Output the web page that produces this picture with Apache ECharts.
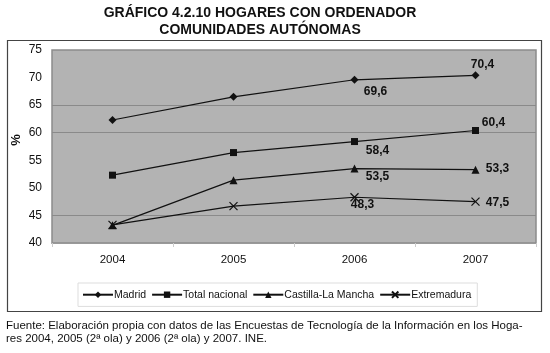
<!DOCTYPE html>
<html>
<head>
    <meta charset="utf-8">
    <title>Hogares con ordenador</title>
    <style type="text/css">
        html, body { margin: 0; padding: 0; background: #fff; }
        #main { width: 550px; height: 353px; }
    </style>
    <script src="https://cdn.jsdelivr.net/npm/echarts@6/dist/echarts.min.js"></script>
</head>
<body>
<div id="main"></div>
<script type="text/javascript">
    var years = ['2004', '2005', '2006', '2007'];
    var madrid = [62.3, 66.5, 69.6, 70.4];
    var totalNacional = [52.3, 56.4, 58.4, 60.4];
    var castilla = [43.2, 51.4, 53.5, 53.3];
    var extremadura = [43.3, 46.7, 48.3, 47.5];

    var FONT = '"Liberation Sans", Arial, sans-serif';
    var INK = '#111';

    // only 2006 and 2007 carry a value label; offsets are from the point
    var labelOffsets = {
        'Madrid': [null, null, [21, 12], [7, -11]],
        'Total nacional': [null, null, [23, 9], [18, -8]],
        'Castilla-La Mancha': [null, null, [23, 8], [22, -1]],
        'Extremadura': [null, null, [8, 7], [22, 1]]
    };

    function buildData(name, values) {
        return values.map(function (v, i) {
            var off = labelOffsets[name][i];
            if (!off) return v;
            return {
                value: v,
                label: {
                    show: true,
                    position: 'inside',
                    offset: off,
                    formatter: function (p) { return String(p.value).replace('.', ','); },
                    fontFamily: FONT,
                    fontWeight: 'bold',
                    fontSize: 12,
                    color: INK
                }
            };
        });
    }

    function line(name, values, symbol, size, extra) {
        var s = {
            name: name,
            type: 'line',
            data: buildData(name, values),
            symbol: symbol,
            symbolSize: size,
            lineStyle: { color: INK, width: 1.2 },
            itemStyle: { color: INK },
            emphasis: { disabled: true },
            animation: false
        };
        if (extra) Object.assign(s, extra);
        return s;
    }

    var myChart = echarts.init(document.getElementById('main'));

    var option = {
        animation: false,
        grid: { left: 52, right: 14, top: 50, bottom: 110 },
        xAxis: {
            type: 'category',
            data: years,
            boundaryGap: true,
            axisLine: { show: true, lineStyle: { color: '#999', width: 1 } },
            axisTick: { show: true, length: 4, lineStyle: { color: '#ccc' } },
            axisLabel: { fontFamily: FONT, fontSize: 11.5, color: INK, margin: 11 }
        },
        yAxis: {
            type: 'value',
            min: 40,
            max: 75,
            interval: 5,
            axisLine: { show: false },
            axisTick: { show: false },
            axisLabel: { fontFamily: FONT, fontSize: 12, color: INK, margin: 10 },
            splitLine: {
                show: true,
                lineStyle: {
                    color: ['transparent', '#8a8a8a', 'transparent', 'transparent', '#8a8a8a', '#8a8a8a', 'transparent', 'transparent'],
                    width: 1
                }
            },
            splitArea: { show: false }
        },
        legend: {
            top: 283,
            left: 78,
            padding: [6, 6, 6, 4],
            borderColor: '#ddd',
            borderWidth: 1,
            itemGap: 5,
            itemWidth: 30,
            itemHeight: 8,
            textStyle: { fontFamily: FONT, fontSize: 10.5, color: INK, padding: [0, 0, 0, -4] },
            data: ['Madrid', 'Total nacional', 'Castilla-La Mancha', 'Extremadura']
        },
        graphic: [
            {
                type: 'rect', silent: true, z: -10,
                shape: { x: 52, y: 50, width: 484, height: 193 },
                style: { fill: '#b3b3b3', stroke: '#8c8c8c', lineWidth: 1.5 }
            },
            {
                type: 'rect', silent: true, z: -20,
                shape: { x: 7.5, y: 40.5, width: 534, height: 271 },
                style: { fill: 'none', stroke: '#444', lineWidth: 1.2 }
            },
            {
                type: 'text', silent: true,
                x: 260, y: 5,
                style: {
                    text: 'GRÁFICO 4.2.10 HOGARES CON ORDENADOR\nCOMUNIDADES AUTÓNOMAS',
                    fontFamily: FONT, fontWeight: 'bold', fontSize: 14, lineHeight: 17,
                    fill: INK, align: 'center'
                }
            },
            {
                type: 'text', silent: true,
                x: 16, y: 140, rotation: Math.PI / 2,
                style: {
                    text: '%', fontFamily: FONT, fontWeight: 'bold', fontSize: 13,
                    fill: INK, align: 'center', verticalAlign: 'middle'
                }
            },
            {
                type: 'text', silent: true,
                x: 6, y: 319,
                style: {
                    text: 'Fuente: Elaboración propia con datos de las Encuestas de Tecnología de la Información en los Hoga-\nres 2004, 2005 (2ª ola) y 2006 (2ª ola) y 2007. INE.',
                    fontFamily: FONT, fontSize: 11.5, lineHeight: 13, fill: INK
                }
            }
        ],
        series: [
            line('Madrid', madrid, 'diamond', 8),
            line('Total nacional', totalNacional, 'rect', 7),
            line('Castilla-La Mancha', castilla, 'triangle', 8),
            line('Extremadura', extremadura, 'path://M0,0L10,10M10,0L0,10', 8, {
                itemStyle: { color: 'none', borderColor: INK, borderWidth: 1.2 }
            })
        ]
    };

    myChart.setOption(option);
</script>
</body>
</html>
